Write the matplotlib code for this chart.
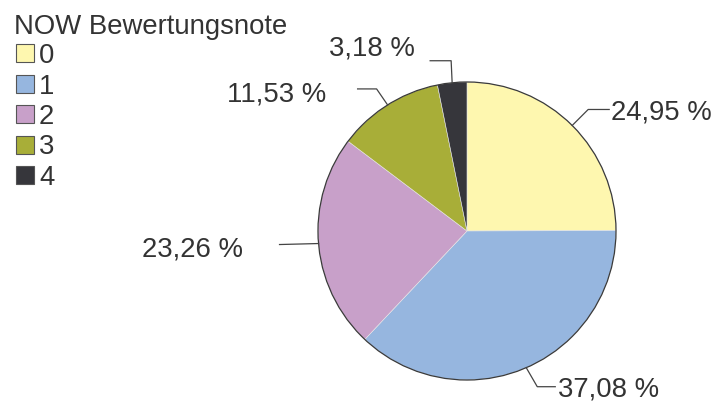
import matplotlib
matplotlib.use("Agg")
import matplotlib.pyplot as plt
import numpy as np
from matplotlib.patches import Rectangle, Circle

categories = ["0", "1", "2", "3", "4"]
values = [24.95, 37.08, 23.26, 11.53, 3.18]
labels = ["24,95 %", "37,08 %", "23,26 %", "11,53 %", "3,18 %"]
colors = ["#FEF7AF", "#96B6DF", "#C8A0C9", "#A8AE38", "#36363B"]
legend_title = "NOW Bewertungsnote"

TXT = "#333333"
FONT = "Liberation Sans"
W, H = 717, 406
fig = plt.figure(figsize=(W / 100, H / 100), dpi=100)
ax = fig.add_axes([0, 0, 1, 1])
ax.set_xlim(0, W)
ax.set_ylim(0, H)
ax.axis("off")

cx, cy, r = 467, H - 232, 149
wedges, _ = ax.pie(values, colors=colors, startangle=90, counterclock=False,
                   center=(cx, cy), radius=r, frame=True,
                   wedgeprops=dict(linewidth=0.4, edgecolor="#e8e8e8"))
ax.set_xlim(0, W)
ax.set_ylim(0, H)
ax.axis("off")
ax.add_patch(Circle((cx, cy), r, fill=False, edgecolor="#3a3a3a", lw=0.9, zorder=3))

# leader layout: (elbow dx, elbow dy, end dx, text dx, text dy, ha, va) in pixel offsets
layout = [
    (16, 16, 37, 39, 14, "left", "center"),
    (11, -19, 29, 32, -21, "left", "center"),
    (None, None, -39, -76, -5, "right", "center"),
    (-11, 16, -30, -61, 11, "right", "center"),
    (-1, 22, -22, -37, 35, "right", "center"),
]
for w, lab, (edx, edy, endx, tdx, tdy, ha, va) in zip(wedges, labels, layout):
    ang = np.deg2rad((w.theta1 + w.theta2) / 2)
    ex, ey = cx + r * np.cos(ang), cy + r * np.sin(ang)
    if edx is None:
        xs, ys = [ex, ex + endx], [ey, ey - 1]
    else:
        xs = [ex, ex + edx, ex + endx]
        ys = [ey, ey + edy, ey + edy]
    tx, ty = ex + tdx, ey + tdy
    ax.plot(xs, ys, color="#444444", lw=0.9, zorder=4)
    ax.text(tx, ty, lab, ha=ha, va=va, fontsize=19.8, color=TXT, family=FONT)

# legend
fig.text(14 / W, 1 - 27 / H, legend_title, ha="left", va="center",
         fontsize=19.8, color=TXT, family=FONT)
for i, (cat, col) in enumerate(zip(categories, colors)):
    yc = 54 + i * 30.5
    fig.patches.append(Rectangle((16 / W, 1 - (yc + 9) / H), 18 / W, 18 / H,
                                 transform=fig.transFigure, facecolor=col,
                                 edgecolor="#555555", lw=0.8))
    fig.text(39 / W, 1 - (yc + 2) / H, cat, ha="left", va="center",
             fontsize=19.8, color=TXT, family=FONT)

fig.savefig("out.png", dpi=100)
